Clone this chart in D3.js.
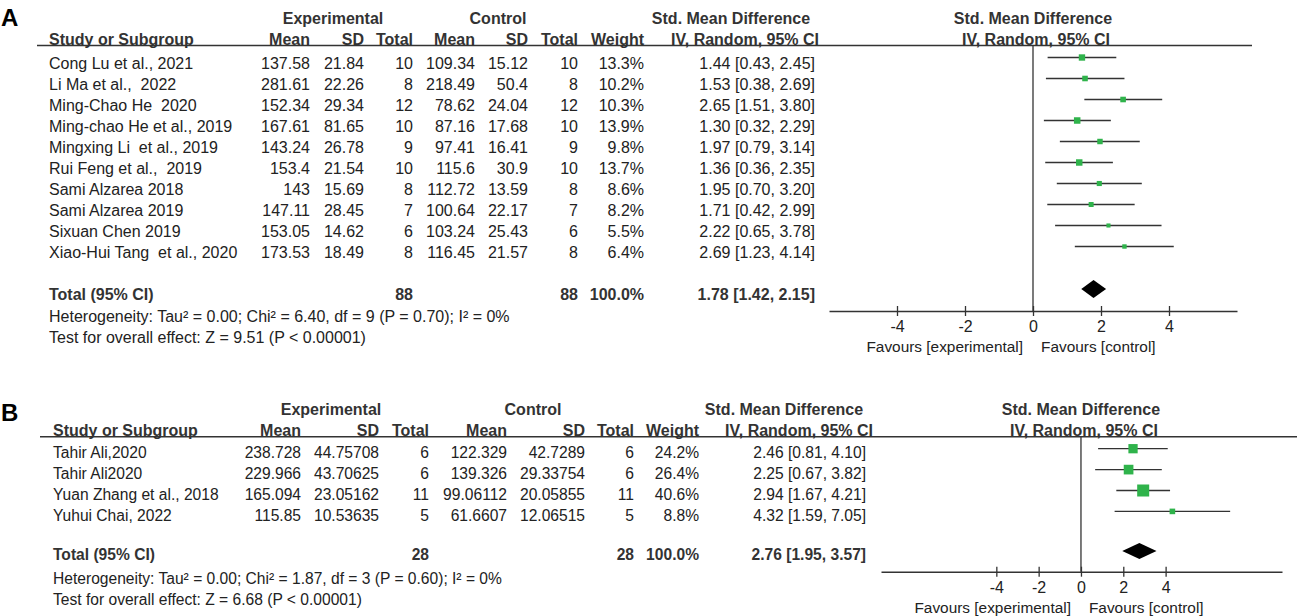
<!DOCTYPE html>
<html>
<head>
<meta charset="utf-8">
<script src="https://cdn.jsdelivr.net/npm/d3@7"></script>
<style>
  body { margin: 0; background: #fff; }
  text { font-family: Arial, "Liberation Sans", sans-serif; fill: #222; white-space: pre; }
</style>
</head>
<body>
<div id="chart"></div>
<script>
 // panel A data
 const studiesA = ["Cong Lu et al., 2021", "Li Ma et al.,  2022", "Ming-Chao He  2020", "Ming-chao He et al., 2019",
     "Mingxing Li  et al., 2019", "Rui Feng et al.,  2019", "Sami Alzarea 2018", "Sami Alzarea 2019",
     "Sixuan Chen 2019", "Xiao-Hui Tang  et al., 2020"];
 const expMeanA = [137.58, 281.61, 152.34, 167.61, 143.24, 153.4, 143, 147.11, 153.05, 173.53];
 const expSdA = [21.84, 22.26, 29.34, 81.65, 26.78, 21.54, 15.69, 28.45, 14.62, 18.49];
 const expNA = [10, 8, 12, 10, 9, 10, 8, 7, 6, 8];
 const ctlMeanA = [109.34, 218.49, 78.62, 87.16, 97.41, 115.6, 112.72, 100.64, 103.24, 116.45];
 const ctlSdA = [15.12, 50.4, 24.04, 17.68, 16.41, 30.9, 13.59, 22.17, 25.43, 21.57];
 const ctlNA = [10, 8, 12, 10, 9, 10, 8, 7, 6, 8];
 const weightA = [13.3, 10.2, 10.3, 13.9, 9.8, 13.7, 8.6, 8.2, 5.5, 6.4];
 const smdA = [1.44, 1.53, 2.65, 1.30, 1.97, 1.36, 1.95, 1.71, 2.22, 2.69];
 const lowA = [0.43, 0.38, 1.51, 0.32, 0.79, 0.36, 0.70, 0.42, 0.65, 1.23];
 const highA = [2.45, 2.69, 3.80, 2.29, 3.14, 2.35, 3.20, 2.99, 3.78, 4.14];
 const totalNA = [88, 88];
 const totalSmdA = [1.78, 1.42, 2.15];
 const hetA = "Heterogeneity: Tau² = 0.00; Chi² = 6.40, df = 9 (P = 0.70); I² = 0%";
 const testA = "Test for overall effect: Z = 9.51 (P < 0.00001)";

 // panel B data
 const studiesB = ["Tahir Ali,2020", "Tahir Ali2020", "Yuan Zhang et al., 2018", "Yuhui Chai, 2022"];
 const expMeanB = [238.728, 229.966, 165.094, 115.85];
 const expSdB = [44.75708, 43.70625, 23.05162, 10.53635];
 const expNB = [6, 6, 11, 5];
 const ctlMeanB = [122.329, 139.326, 99.06112, 61.6607];
 const ctlSdB = [42.7289, 29.33754, 20.05855, 12.06515];
 const ctlNB = [6, 6, 11, 5];
 const weightB = [24.2, 26.4, 40.6, 8.8];
 const smdB = [2.46, 2.25, 2.94, 4.32];
 const lowB = [0.81, 0.67, 1.67, 1.59];
 const highB = [4.10, 3.82, 4.21, 7.05];
 const totalNB = [28, 28];
 const totalSmdB = [2.76, 1.95, 3.57];
 const hetB = "Heterogeneity: Tau² = 0.00; Chi² = 1.87, df = 3 (P = 0.60); I² = 0%";
 const testB = "Test for overall effect: Z = 6.68 (P < 0.00001)";

 const tickLabels = [-4, -2, 0, 2, 4];

 const W = 1297, H = 616;
 const svg = d3.select("#chart").append("svg")
     .attr("width", W)
     .attr("height", H)
     .attr("xml:space", "preserve");

 const f2 = d3.format(".2f"),
     f1 = d3.format(".1f");
 const ciText = (m, l, h) => f2(m) + " [" + f2(l) + ", " + f2(h) + "]";

 function drawPanel(p) {
     const g = svg.append("g");
     const fs = p.fontSize;

     function txt(x, y, s, anchor, bold, size) {
         return g.append("text")
             .attr("x", x)
             .attr("y", y)
             .attr("dy", "0.35em")
             .attr("text-anchor", anchor || "start")
             .attr("font-size", size || fs)
             .attr("font-weight", bold ? "bold" : "normal")
             .style("fill", bold ? "#333" : "#222")
             .text(s);
     }

     // panel letter
     g.append("text")
         .attr("x", 1).attr("y", p.letterY)
         .attr("font-size", 24).attr("font-weight", "bold")
         .style("fill", "#000")
         .text(p.letter);

     // headers
     const c = p.cols;
     txt(c.expHead, p.yHead1, "Experimental", "middle", true, 16);
     txt(c.ctlHead, p.yHead1, "Control", "middle", true, 16);
     txt(c.smdHead, p.yHead1, "Std. Mean Difference", "middle", true, 16);
     txt(c.label, p.yHead2, "Study or Subgroup", "start", true, 16);
     txt(c.mean1, p.yHead2, "Mean", "end", true, 16);
     txt(c.sd1, p.yHead2, "SD", "end", true, 16);
     txt(c.n1, p.yHead2, "Total", "end", true, 16);
     txt(c.mean2, p.yHead2, "Mean", "end", true, 16);
     txt(c.sd2, p.yHead2, "SD", "end", true, 16);
     txt(c.n2, p.yHead2, "Total", "end", true, 16);
     txt(c.w, p.yHead2, "Weight", "end", true, 16);
     txt(c.ivHead, p.yHead2, "IV, Random, 95% CI", "end", true, 16);

     g.append("line")
         .attr("x1", p.lineX[0]).attr("x2", p.lineX[1])
         .attr("y1", p.yLine).attr("y2", p.yLine)
         .attr("stroke", "#333").attr("stroke-width", 1.5);

     // table rows
     const y = i => p.yRow0 + i * p.rowStep;
     p.studies.forEach((s, i) => {
         txt(c.label, y(i), s);
         txt(c.mean1, y(i), String(p.expMean[i]), "end");
         txt(c.sd1, y(i), String(p.expSd[i]), "end");
         txt(c.n1, y(i), String(p.expN[i]), "end");
         txt(c.mean2, y(i), String(p.ctlMean[i]), "end");
         txt(c.sd2, y(i), String(p.ctlSd[i]), "end");
         txt(c.n2, y(i), String(p.ctlN[i]), "end");
         txt(c.w, y(i), f1(p.weight[i]) + "%", "end");
         txt(c.ci, y(i), ciText(p.smd[i], p.low[i], p.high[i]), "end");
     });

     // totals
     txt(c.label, p.yTotal, "Total (95% CI)", "start", true);
     txt(c.n1, p.yTotal, String(p.totalN[0]), "end", true);
     txt(c.n2, p.yTotal, String(p.totalN[1]), "end", true);
     txt(c.w, p.yTotal, "100.0%", "end", true);
     txt(c.ci, p.yTotal, ciText(p.totalSmd[0], p.totalSmd[1], p.totalSmd[2]), "end", true);
     txt(c.label, p.yHet, p.het);
     txt(c.label, p.yTest, p.test);

     // forest plot
     const x = d3.scaleLinear().domain(p.domain).range(p.range);
     const size = d3.scaleSqrt().domain([0, d3.max(p.weight)]).range([0, p.maxBox]);

     txt(x(0), p.yHead1, "Std. Mean Difference", "middle", true, 16);
     txt(x(0) + 3, p.yHead2, "IV, Random, 95% CI", "middle", true, 16);

     g.append("line")
         .attr("x1", x(0)).attr("x2", x(0))
         .attr("y1", p.yLine).attr("y2", p.yAxis)
         .attr("stroke", "#333").attr("stroke-width", 1.3);

     const rows = g.selectAll(".study")
         .data(p.smd.map((d, i) => ({ smd: d, low: p.low[i], high: p.high[i], w: p.weight[i], i: i })))
         .enter().append("g")
         .attr("class", "study");

     rows.append("line")
         .attr("x1", d => x(d.low))
         .attr("x2", d => x(d.high))
         .attr("y1", d => y(d.i) + p.markOff)
         .attr("y2", d => y(d.i) + p.markOff)
         .attr("stroke", "#333")
         .attr("stroke-width", 1.3);

     rows.append("rect")
         .attr("x", d => x(d.smd) - size(d.w) / 2)
         .attr("y", d => y(d.i) + p.markOff - size(d.w) / 2)
         .attr("width", d => size(d.w))
         .attr("height", d => size(d.w))
         .attr("fill", "#2fb34b");

     // pooled diamond
     const dy = p.yTotal + p.markOff,
         dh = p.diamondH / 2;
     g.append("path")
         .attr("d", "M" + x(p.totalSmd[1]) + "," + dy +
             "L" + x(p.totalSmd[0]) + "," + (dy - dh) +
             "L" + x(p.totalSmd[2]) + "," + dy +
             "L" + x(p.totalSmd[0]) + "," + (dy + dh) + "Z")
         .attr("fill", "#000");

     // axis
     const axis = g.append("g")
         .attr("transform", "translate(0," + p.yAxis + ")")
         .call(d3.axisBottom(x).tickValues(tickLabels).tickFormat(d => String(d))
             .tickSize(5).tickSizeOuter(0).tickPadding(5));
     axis.select(".domain").attr("stroke", "#333").attr("stroke-width", 1.5);
     axis.selectAll(".tick line").attr("y1", -5).attr("y2", 5).attr("stroke", "#333").attr("stroke-width", 1.3);
     axis.selectAll(".tick text")
         .attr("font-size", 16)
         .attr("font-family", "Arial, 'Liberation Sans', sans-serif")
         .style("fill", "#222");

     txt(x(0) - 10, p.yFav, "Favours [experimental]", "end", false, 15.4);
     txt(x(0) + 8, p.yFav, "Favours [control]", "start", false, 15.4);
 }

 drawPanel({
     letter: "A", letterY: 26, fontSize: 16,
     studies: studiesA, expMean: expMeanA, expSd: expSdA, expN: expNA,
     ctlMean: ctlMeanA, ctlSd: ctlSdA, ctlN: ctlNA, weight: weightA,
     smd: smdA, low: lowA, high: highA, totalN: totalNA, totalSmd: totalSmdA,
     het: hetA, test: testA,
     cols: { label: 49, mean1: 310, sd1: 364, n1: 413, mean2: 475, sd2: 528, n2: 578, w: 644, ci: 815,
         expHead: 333, ctlHead: 498, smdHead: 731, ivHead: 819 },
     yHead1: 18, yHead2: 39, yLine: 45.5, lineX: [37, 1252],
     yRow0: 63, rowStep: 21, yTotal: 294.5, yHet: 316.5, yTest: 337.5,
     markOff: -5.5, diamondH: 18, maxBox: 6.5,
     domain: [-6, 6], range: [829, 1237], yAxis: 311, yFav: 347
 });

 drawPanel({
     letter: "B", letterY: 421, fontSize: 15.6,
     studies: studiesB, expMean: expMeanB, expSd: expSdB, expN: expNB,
     ctlMean: ctlMeanB, ctlSd: ctlSdB, ctlN: ctlNB, weight: weightB,
     smd: smdB, low: lowB, high: highB, totalN: totalNB, totalSmd: totalSmdB,
     het: hetB, test: testB,
     cols: { label: 53, mean1: 301, sd1: 379, n1: 429, mean2: 507, sd2: 585, n2: 634, w: 699, ci: 866,
         expHead: 331, ctlHead: 533, smdHead: 784, ivHead: 873 },
     yHead1: 409, yHead2: 430, yLine: 436.7, lineX: [40, 1297],
     yRow0: 452.7, rowStep: 20.9, yTotal: 555, yHet: 578.3, yTest: 599.3,
     markOff: -4, diamondH: 16, maxBox: 12,
     domain: [-9.45, 9.5], range: [881, 1282], yAxis: 571.7, yFav: 607.3
 });
</script>
</body>
</html>
